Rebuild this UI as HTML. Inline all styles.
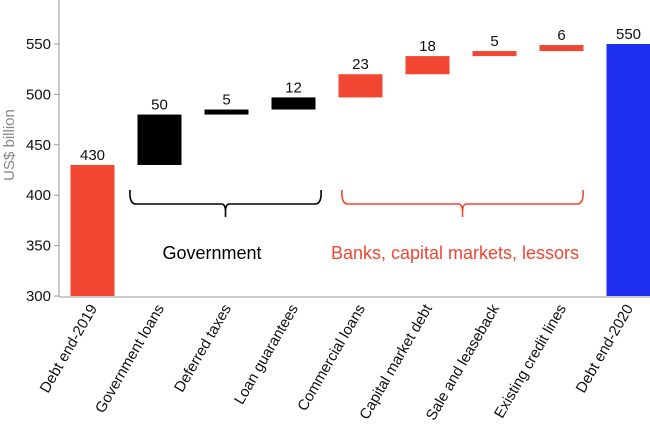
<!DOCTYPE html>
<html><head><meta charset="utf-8"><style>
body{margin:0;background:#fff}
svg{font-family:"Liberation Sans",sans-serif;display:block}
</style></head><body>
<svg id="chart" width="650" height="433" viewBox="0 0 650 433"></svg>
<script>
const categories=["Debt end-2019","Government loans","Deferred taxes","Loan guarantees","Commercial loans","Capital market debt","Sale and leaseback","Existing credit lines","Debt end-2020"];
const values=[430,50,5,12,23,18,5,6,550];
const kinds=["total","gov","gov","gov","bank","bank","bank","bank","total2"];
const yTicks=[300,350,400,450,500,550,600];
const NS="http://www.w3.org/2000/svg";
const svg=document.getElementById('chart');
function y(v){return 296-(v-300)*1.008;}
function x(i){return 92.5+i*67;}
const BW=44;
function mk(t,a,p){const e=document.createElementNS(NS,t);for(const k in a)e.setAttribute(k,a[k]);(p||svg).appendChild(e);return e;}
const colors={total:"#f04632",gov:"#000",bank:"#f04632",total2:"#2030f0"};
// axes
let ax=mk('line',{x1:59,y1:0,x2:59,y2:297,stroke:"#999","stroke-width":1});

let bx=mk('line',{x1:59,y1:297,x2:650,y2:297,stroke:"#999","stroke-width":1});

yTicks.forEach(t=>{
  let l=mk('line',{x1:54,y1:y(t),x2:59,y2:y(t),stroke:"#999"});
  
  let tx=mk('text',{x:51,y:y(t)+5,"text-anchor":"end","font-size":15,fill:"#111"});
  tx.textContent=t;
  
});
let yt=mk('text',{x:0,y:0,transform:"translate(14,145) rotate(-90)","text-anchor":"middle","font-size":15,fill:"#888"});
yt.textContent="US$ billion";

let run=0;
values.forEach((v,i)=>{
  let lo,hi;
  if(kinds[i].startsWith('total')){lo=300;hi=v;run=v;}
  else{lo=run;hi=run+v;run=hi;}
  let r=mk('rect',{x:x(i)-BW/2,y:y(hi),width:BW,height:y(lo)-y(hi),fill:colors[kinds[i]]});
  
  let t=mk('text',{x:x(i),y:y(hi)-5,"text-anchor":"middle","font-size":15,fill:"#111"});
  t.textContent=v;
  
  let c=mk('text',{x:0,y:0,transform:`translate(${x(i)+5},308) rotate(-60)`,"text-anchor":"end","font-size":15,fill:"#111"});
  c.textContent=categories[i];
  
});
function brace(x1,x2,col,name){
  const m=(x1+x2)/2;
  let p=mk('path',{d:`M${x1},190 Q${x1-1},204 ${x1+6},204 L${m-4},204 Q${m},204 ${m},212 L${m},217 M${m},212 Q${m},204 ${m+4},204 L${x2-6},204 Q${x2+1},204 ${x2},190`,fill:"none",stroke:col,"stroke-width":1.6});
  
}
brace(130,321,"#000","government-brace");
brace(342,583,"#f04632","banks-brace");
let g=mk('text',{x:212,y:259,"text-anchor":"middle","font-size":18,fill:"#000"});g.textContent="Government";

let b=mk('text',{x:455,y:259,"text-anchor":"middle","font-size":18,fill:"#f04632"});b.textContent="Banks, capital markets, lessors";

</script>
</body></html>
